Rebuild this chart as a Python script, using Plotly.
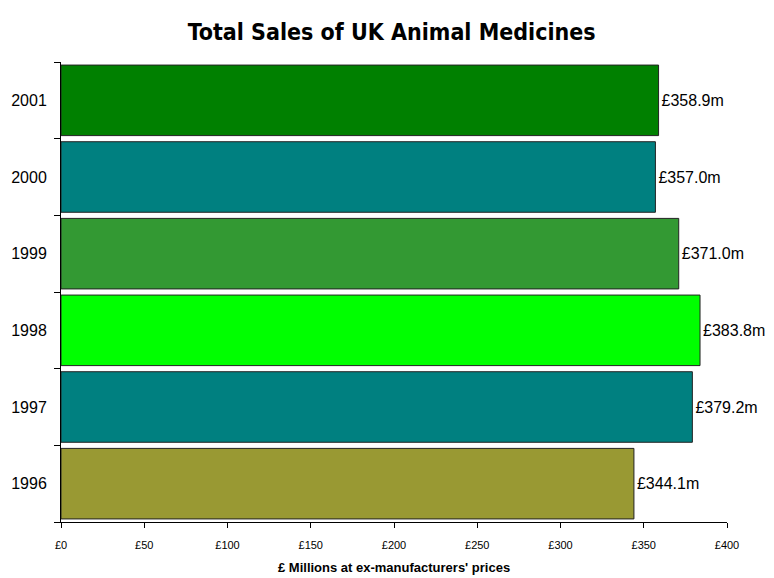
import plotly.graph_objects as go

years = ["1996", "1997", "1998", "1999", "2000", "2001"]
sales = [344.1, 379.2, 383.8, 371.0, 357.0, 358.9]
colors = ["#999933", "#008080", "#00FF00", "#339933", "#008080", "#008000"]
labels = ["£%.1fm" % v for v in sales]
xticks = [0, 50, 100, 150, 200, 250, 300, 350, 400]
xticklabels = ["£%d" % v for v in xticks]

fig = go.Figure(go.Bar(
    x=sales, y=years, orientation="h",
    marker=dict(color=colors, line=dict(color="#222222", width=1)),
    width=0.92,
    text=labels, textposition="outside", cliponaxis=False,
    textfont=dict(family="Liberation Sans, Arial", size=16, color="black"),
))

fig.update_layout(
    width=774, height=578,
    margin=dict(l=61, r=47, t=62, b=56),
    paper_bgcolor="white", plot_bgcolor="white",
    showlegend=False,
    title=dict(text="<b>Total Sales of UK Animal Medicines</b>", x=0.506, xanchor="center",
               y=0.945, yanchor="middle",
               font=dict(family="Comic Sans MS, Liberation Sans Narrow, DejaVu Sans Condensed", size=23, color="black")),
    xaxis=dict(range=[0, 400], tickvals=xticks, ticktext=xticklabels, showgrid=False,
               zeroline=False, showline=True, linecolor="black", linewidth=1,
               ticks="outside", ticklen=5, tickcolor="black", ticklabelstandoff=8,
               tickfont=dict(family="Liberation Sans, Arial", size=11, color="black")),
    yaxis=dict(showgrid=False, zeroline=False, showline=True, linecolor="black", linewidth=1,
               ticks="outside", ticklen=6, tickcolor="black", tickson="boundaries",
               ticklabelstandoff=10,
               tickfont=dict(family="Liberation Sans, Arial", size=16, color="black")),
    annotations=[dict(text="<b>£ Millions at ex-manufacturers' prices</b>", xref="paper", yref="paper",
                      x=0.5, y=-0.098, xanchor="center", yanchor="middle", showarrow=False,
                      font=dict(family="Liberation Sans, Arial", size=13, color="black"))],
)

fig.write_html("out.html")
